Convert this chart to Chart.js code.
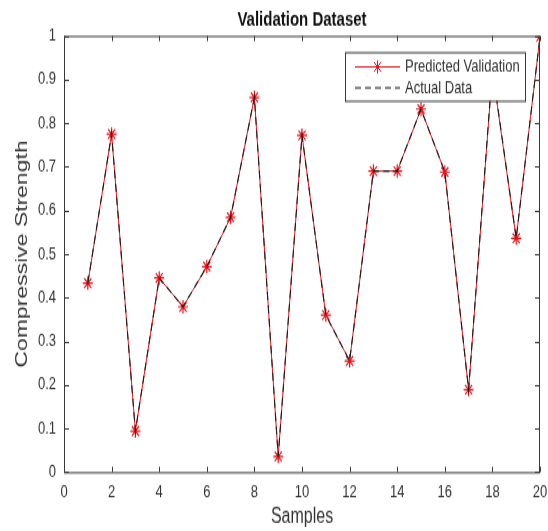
<!DOCTYPE html>
<html>
<head>
<meta charset="utf-8">
<title>Validation Dataset</title>
<script src="https://cdn.jsdelivr.net/npm/chart.js@4.4.1/dist/chart.umd.min.js"></script>
<style>
  html, body { margin: 0; padding: 0; background: #fff; overflow: hidden; }
  /* bitmap is drawn squat (548x393) and shown stretched to the full 531px height */
  #chart { display: block; }
</style>
</head>
<body>
<canvas id="chart" width="548" height="393" style="width:548px;height:531px"></canvas>
<script>
const samples = [1, 2, 3, 4, 5, 6, 7, 8, 9, 10, 11, 12, 13, 14, 15, 16, 17, 18, 19, 20];
const predicted = [0.433, 0.775, 0.094, 0.445, 0.379, 0.471, 0.584, 0.859, 0.036, 0.772,
                   0.360, 0.255, 0.690, 0.690, 0.832, 0.688, 0.189, 0.920, 0.536, 0.998];
const actual    = [0.433, 0.775, 0.094, 0.445, 0.379, 0.471, 0.584, 0.859, 0.036, 0.772,
                   0.360, 0.255, 0.690, 0.690, 0.832, 0.688, 0.189, 0.925, 0.536, 0.998];
const xTicks = [0, 2, 4, 6, 8, 10, 12, 14, 16, 18, 20];
const yTicks = [0, 0.1, 0.2, 0.3, 0.4, 0.5, 0.6, 0.7, 0.8, 0.9, 1];

const AXIS_COLOR = '#3a3a3a';
const TEXT_COLOR = '#333333';
const FONT = '"Liberation Sans", Arial, sans-serif';

// box around the axes with inward ticks on all four sides
const axesBox = {
  id: 'axesBox',
  afterDatasetsDraw(chart) {
    const { ctx, chartArea: a, scales: { x, y } } = chart;
    const tl = 4;
    ctx.save();
    ctx.strokeStyle = AXIS_COLOR;
    ctx.lineWidth = 1;
    ctx.strokeRect(a.left + 0.5, a.top + 0.5, a.right - a.left - 1, a.bottom - a.top);
    ctx.beginPath();
    xTicks.forEach(v => {
      const px = Math.round(x.getPixelForValue(v)) + 0.5;
      ctx.moveTo(px, a.bottom); ctx.lineTo(px, a.bottom - tl);
      ctx.moveTo(px, a.top); ctx.lineTo(px, a.top + tl);
    });
    yTicks.forEach(v => {
      const py = Math.round(y.getPixelForValue(v)) + 0.5;
      ctx.moveTo(a.left, py); ctx.lineTo(a.left + tl + 1, py);
      ctx.moveTo(a.right, py); ctx.lineTo(a.right - tl - 1, py);
    });
    ctx.stroke();
    ctx.restore();
  }
};

// legend drawn inside the top right corner of the axes
const insideLegend = {
  id: 'insideLegend',
  afterDraw(chart) {
    const { ctx, chartArea: a } = chart;
    const ds = chart.data.datasets;
    const w = 180, h = 36;
    const bx = a.right - 15 - w, by = a.top + 12;
    ctx.save();
    ctx.fillStyle = '#fff';
    ctx.fillRect(bx, by, w, h);
    ctx.strokeStyle = AXIS_COLOR;
    ctx.lineWidth = 1;
    ctx.strokeRect(bx + 0.5, by + 0.5, w, h);

    const rows = [by + 11, by + 26.5];
    const x0 = bx + 10, x1 = bx + 55;

    // predicted: red line with star
    ctx.strokeStyle = ds[0].borderColor;
    ctx.lineWidth = 1;
    ctx.beginPath(); ctx.moveTo(x0, rows[0]); ctx.lineTo(x1, rows[0]); ctx.stroke();
    Chart.helpers.drawPoint(ctx, { pointStyle: 'star', radius: 5, borderWidth: 1 }, (x0 + x1) / 2, rows[0]);

    // actual: black dashed line
    ctx.strokeStyle = ds[1].borderColor;
    ctx.lineWidth = 1.2;
    ctx.setLineDash(ds[1].borderDash);
    ctx.beginPath(); ctx.moveTo(x0, rows[1]); ctx.lineTo(x1, rows[1]); ctx.stroke();
    ctx.setLineDash([]);

    ctx.fillStyle = TEXT_COLOR;
    ctx.font = '13px ' + FONT;
    ctx.textBaseline = 'middle';
    ctx.textAlign = 'left';
    ctx.fillText(ds[0].label, x1 + 5, rows[0]);
    ctx.fillText(ds[1].label, x1 + 5, rows[1]);
    ctx.restore();
  }
};

new Chart(document.getElementById('chart'), {
  type: 'line',
  data: {
    labels: samples,
    datasets: [
      {
        label: 'Predicted Validation',
        data: predicted,
        borderColor: '#e8141c',
        backgroundColor: '#e8141c',
        borderWidth: 1,
        pointStyle: 'star',
        pointRadius: 5,
        pointBorderWidth: 1.2,
        pointBorderColor: '#e8141c',
        tension: 0,
        order: 1,
      },
      {
        label: 'Actual Data',
        data: actual,
        borderColor: '#1a1a1a',
        borderWidth: 1.1,
        borderDash: [6, 4],
        pointRadius: 0,
        tension: 0,
        order: 0,
      },
    ],
  },
  options: {
    responsive: false,
    animation: false,
    devicePixelRatio: 1,
    layout: { padding: { left: 0, right: 8, top: 0, bottom: 0 } },
    scales: {
      x: {
        type: 'linear',
        min: 0, max: 20,
        afterFit: s => { s.height = 43.6; s.paddingLeft = 0; s.paddingRight = 0; },
        afterBuildTicks: s => { s.ticks = xTicks.map(v => ({ value: v })); },
        grid: { display: false, drawTicks: false },
        border: { display: false },
        ticks: { padding: 7, color: TEXT_COLOR, font: { size: 13, family: FONT }, maxRotation: 0, callback: v => String(v) },
        title: { display: true, text: 'Samples', color: TEXT_COLOR, font: { size: 16, family: FONT }, padding: { top: 0, bottom: 1 } },
      },
      y: {
        min: 0, max: 1,
        afterFit: s => { s.width = 64; },
        afterBuildTicks: s => { s.ticks = yTicks.map(v => ({ value: v })); },
        grid: { display: false, drawTicks: false },
        border: { display: false },
        ticks: { padding: 8, color: TEXT_COLOR, font: { size: 13, family: FONT }, callback: v => String(v) },
        title: { display: true, text: 'Compressive Strength', color: TEXT_COLOR, font: { size: 17, family: FONT }, padding: { top: 12, bottom: 0 } },
      },
    },
    plugins: {
      legend: { display: false },
      tooltip: { enabled: false },
      title: {
        display: true,
        fullSize: false,
        text: 'Validation Dataset',
        color: '#111',
        font: { size: 15, weight: 'bold', family: FONT },
        padding: { top: 6, bottom: 2.5 },
      },
    },
  },
  plugins: [axesBox, insideLegend],
});
</script>
</body>
</html>
